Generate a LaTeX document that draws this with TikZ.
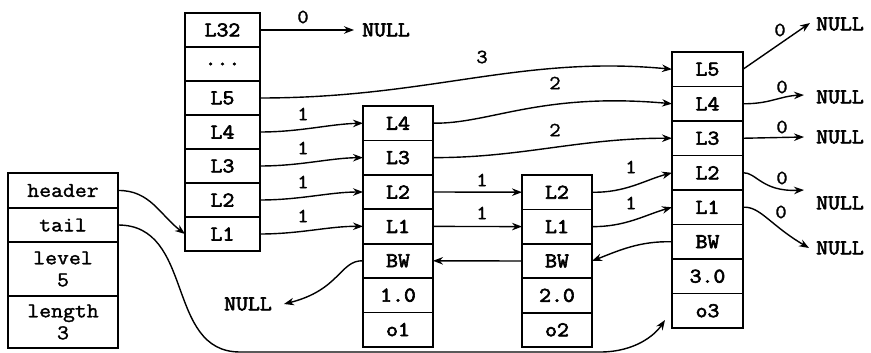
\documentclass[tikz,border=0pt]{standalone}
\usepackage{fontspec}
\setmonofont[FakeStretch=1.1,FakeBold=1.5,BoldFont={Latin Modern Mono},BoldFeatures={FakeBold=3}]{Latin Modern Mono}
\usetikzlibrary{arrows.meta}
\begin{document}
\begin{tikzpicture}[x=1pt,y=-1pt,
  cell/.style={draw,line width=1.8pt,minimum width=70pt,minimum height=34.4pt,inner sep=0pt,outer sep=0pt,anchor=north,
    font=\fontsize{21}{22}\selectfont\ttfamily\bfseries},
  lcell/.style={cell,minimum width=110pt,font=\fontsize{21}{22}\selectfont\ttfamily,align=center},
  hcell/.style={cell,minimum width=75pt,minimum height=34pt},
  lbl/.style={inner sep=0pt,font=\fontsize{20}{22}\selectfont\ttfamily},
  nul/.style={inner sep=0pt,font=\fontsize{21}{22}\selectfont\ttfamily\bfseries},
  con/.style={line width=1.4pt,-{Stealth[length=10pt,width=7.5pt]}}
]
\useasboundingbox (0,0) rectangle (871,353);

% left list structure
\node[lcell,minimum height=35pt] (hd) at (63,173) {header};
\node[lcell,minimum height=34pt] (tl) at (hd.south) {tail};
\node[lcell,minimum height=54pt] (lv) at (tl.south) {level\\5};
\node[lcell,minimum height=52pt] (ln) at (lv.south) {length\\3};

% header node
\node[hcell] (h32) at (222.5,13) {L32};
\node[hcell] (hdt) at (h32.south) {...};
\node[hcell] (h5) at (hdt.south) {L5};
\node[hcell] (h4) at (h5.south) {L4};
\node[hcell] (h3) at (h4.south) {L3};
\node[hcell] (h2) at (h3.south) {L2};
\node[hcell] (h1) at (h2.south) {L1};

% node 1
\node[cell] (aL4) at (398,106) {L4};
\node[cell] (aL3) at (aL4.south) {L3};
\node[cell] (aL2) at (aL3.south) {L2};
\node[cell] (aL1) at (aL2.south) {L1};
\node[cell] (aBW) at (aL1.south) {BW};
\node[cell] (aSc) at (aBW.south) {1.0};
\node[cell] (aOb) at (aSc.south) {o1};

% node 2
\node[cell] (bL2) at (557,175) {L2};
\node[cell] (bL1) at (bL2.south) {L1};
\node[cell] (bBW) at (bL1.south) {BW};
\node[cell] (bSc) at (bBW.south) {2.0};
\node[cell] (bOb) at (bSc.south) {o2};

% node 3
\tikzset{ccell/.style={cell,minimum width=71pt,minimum height=34.5pt}}
\node[ccell] (cL5) at (707.5,52) {L5};
\node[ccell] (cL4) at (cL5.south) {L4};
\node[ccell] (cL3) at (cL4.south) {L3};
\node[ccell] (cL2) at (cL3.south) {L2};
\node[ccell] (cL1) at (cL2.south) {L1};
\node[ccell] (cBW) at (cL1.south) {BW};
\node[ccell] (cSc) at (cBW.south) {3.0};
\node[ccell] (cOb) at (cSc.south) {o3};

% NULL nodes
\node[nul] (n32) at (386,30) {NULL};
\node[nul] (nbw) at (248,304) {NULL};
\node[nul] (n5) at (840,24) {NULL};
\node[nul] (n4) at (840,97) {NULL};
\node[nul] (n3) at (840,137) {NULL};
\node[nul] (n2) at (840,203) {NULL};
\node[nul] (n1) at (840,248) {NULL};

% span labels
\node[lbl] (s32) at (303,17) {0};
\node[lbl] (sh5) at (482,57) {3};
\node[lbl] (sh4) at (303,114) {1};
\node[lbl] (sh3) at (303,148) {1};
\node[lbl] (sh2) at (303,182) {1};
\node[lbl] (sh1) at (303,216) {1};
\node[lbl] (sa4) at (555,83) {2};
\node[lbl] (sa3) at (555,130) {2};
\node[lbl] (sa2) at (482,180) {1};
\node[lbl] (sa1) at (482,213) {1};
\node[lbl] (sb2) at (631,167) {1};
\node[lbl] (sb1) at (631,203) {1};
\node[lbl] (sc5) at (780,30) {0};
\node[lbl] (sc4) at (782,87) {0};
\node[lbl] (sc3) at (782,127) {0};
\node[lbl] (sc2) at (782,178) {0};
\node[lbl] (sc1) at (781,212) {0};

% connectors
\draw[con] (hd.east) .. controls (150,190) and (160,215) .. (h1.west);
\coordinate (tailend) at (665,320);
\draw[con] (tl.east) .. controls (195,225) and (165,352) .. (240,352) -- (600,352) .. controls (635,352) and (655,335) .. (tailend);

\draw[con] (h32.east) -- ([xshift=-8pt]n32.west);
\draw[con] (h5.east) .. controls (430,98) and (520,55) .. (cL5.west);
\draw[con] (h4.east) .. controls (300,132) and (330,124) .. (aL4.west);
\draw[con] (h3.east) .. controls (300,166) and (330,158) .. (aL3.west);
\draw[con] (h2.east) .. controls (300,200) and (330,192) .. (aL2.west);
\draw[con] (h1.east) .. controls (300,234) and (330,226) .. (aL1.west);

\draw[con] (aL4.east) .. controls (490,124) and (540,92) .. (cL4.west);
\draw[con] (aL3.east) .. controls (520,158) and (580,138) .. (cL3.west);
\draw[con] (aL2.east) -- (bL2.west);
\draw[con] (aL1.east) -- (bL1.west);
\draw[con] (bL2.east) .. controls (625,193) and (645,180) .. (cL2.west);
\draw[con] (bL1.east) .. controls (625,227) and (645,215) .. (cL1.west);

\draw[con] (bBW.west) -- (aBW.east);
\draw[con] (cBW.west) .. controls (640,241) and (620,250) .. (bBW.east);
\draw[con] (aBW.west) .. controls (340,260) and (340,290) .. ([xshift=12pt]nbw.east);

\draw[con] (cL5.east) -- ([xshift=-6pt,yshift=1pt]n5.west);
\draw[con] (cL4.east) .. controls (770,104) and (780,96) .. ([xshift=-12pt,yshift=2pt]n4.west);
\draw[con] (cL3.east) -- ([xshift=-12pt]n3.west);
\draw[con] (cL2.east) .. controls (756,172) and (762,192) .. ([xshift=-12pt,yshift=13pt]n2.west);
\draw[con] (cL1.east) .. controls (760,206) and (770,225) .. ([xshift=-7pt]n1.west);
\end{tikzpicture}
\end{document}
